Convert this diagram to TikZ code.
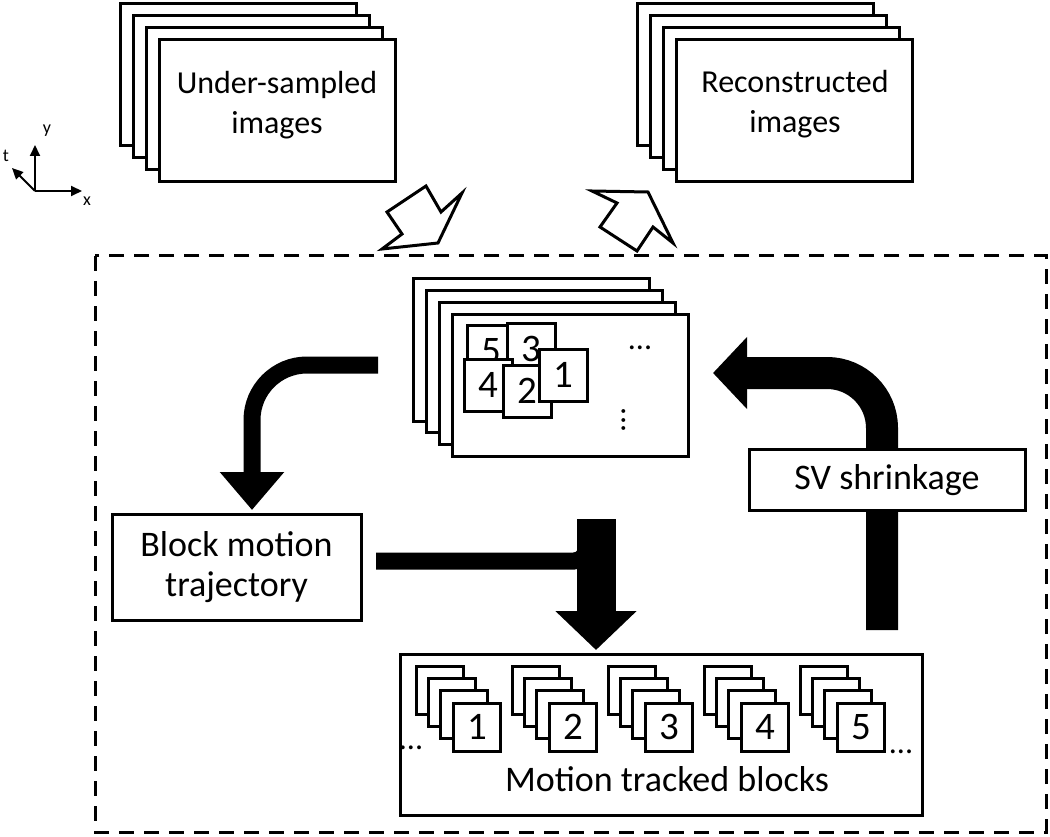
\documentclass[tikz,border=0pt]{standalone}
\usepackage{fontspec}
\setmainfont{Carlito}
\usetikzlibrary{arrows.meta}

\begin{document}
\begin{tikzpicture}[x=1pt,y=-1pt,
  page/.style={draw, line width=3pt, fill=white, minimum width=236pt, minimum height=142pt, inner sep=0pt, outer sep=0pt},
  tile/.style={draw, line width=3pt, fill=white, minimum width=48pt, minimum height=52pt, inner sep=0pt, font=\fontsize{39}{40}\selectfont},
  mini/.style={draw, line width=3pt, fill=white, minimum width=47pt, minimum height=48pt, inner sep=0pt, font=\fontsize{39}{40}\selectfont},
  box/.style={draw, line width=3pt, fill=white, inner sep=0pt, align=center, font=\fontsize{36}{40}\selectfont},
  txt/.style={align=center, inner sep=0pt, font=\fontsize{32}{40}\selectfont},
  hollow/.style={draw, line width=3pt, fill=white, line join=miter},
  axis/.style={line width=2pt, -{Triangle[length=11pt,width=10pt]}},
  small/.style={inner sep=0pt, font=\fontsize{18}{18}\selectfont}]
\useasboundingbox (0,0) rectangle (1050,837);

% axes
\coordinate (o) at (35,191);
\coordinate (ax) at (82,191);
\coordinate (ay) at (35,145);
\coordinate (at) at (12,168);
\draw[axis] (o) -- (ax);
\draw[axis] (o) -- (ay);
\draw[axis] (o) -- (at);
\node[small] (lx) at (87,201) {x};
\node[small] (ly) at (47,131) {y};
\node[small] (lt) at (6,156) {t};

% outer dashed frame
\draw[line width=3pt, dash pattern=on 15pt off 10pt] (95,256) rectangle (1046,832);

% hollow in/out arrows
\draw[hollow] (382,249) -- (402,234) -- (387,212) -- (426,186) -- (441,212) -- (462,193) -- (438,243) -- cycle;
\draw[hollow] (592,191) -- (648,192) -- (673,243) -- (653,227) -- (637,251) -- (600,227) -- (617,203) -- cycle;

% image stacks
\foreach \i in {0,...,3} {
  \node[page] (us\i) at (238+13*\i,75+12*\i) {};
  \node[page] (rc\i) at (755+13.3*\i,75+12*\i) {};
  \node[page] (fr\i) at (531+13.1*\i,350+11.8*\i) {};
}
\node[txt] (ustext) at (277,105) {Under-sampled\\images};
\node[txt] (rctext) at (795,104) {Reconstructed\\images};

% blocks in the current frame
\node[tile] (t5) at (491,351) {5};
\node[tile] (t3) at (531,349) {3};
\node[tile] (t4) at (488,385) {4};
\node[tile] (t2) at (527,391) {2};
\node[tile] (t1) at (563,375) {1};
\node[txt] (hdots) at (640,348) {...};
\node[txt, rotate=90] (vdots) at (624,420) {...};

% thick arrows
\coordinate (a1s) at (378,365);
\coordinate (a1c) at (252,365);
\coordinate (a1e) at (252,510);
\draw[line width=17pt, rounded corners=55pt, -{Triangle[width=62pt,length=38pt]}] (a1s) -- (a1c) -- (a1e);

\coordinate (a2s) at (376,561);
\coordinate (a2t) at (596,519);
\coordinate (a2e) at (596,650);
\draw[line width=17pt, rounded corners=12pt] (a2s) -- ([xshift=-10pt]a2s -| a2t) -- ([xshift=-10pt,yshift=20pt]a2s -| a2t);
\draw[line width=39pt, -{Triangle[width=79pt,length=39pt]}] (a2t) -- (a2e);

\coordinate (a3s) at (882,630);
\coordinate (a3c) at (882,373);
\coordinate (a3e) at (713,373);
\draw[line width=32pt, rounded corners=55pt, -{Triangle[width=70pt,length=34pt]}] (a3s) -- (a3c) -- (a3e);

% process boxes
\node[box, minimum width=249pt, minimum height=106pt] (bmt) at (236.5,567) {Block motion\\trajectory};
\node[box, minimum width=276pt, minimum height=61pt] (svs) at (887,480) {SV shrinkage};
\node[box, minimum width=522pt, minimum height=161pt] (mtb) at (661,734.5) {};

% motion tracked block stacks
\foreach \k in {1,...,5} {
  \foreach \i in {0,...,2} {
    \node[mini] (m\k\i) at (440+96*\k-96+12.2*\i,690+12.4*\i) {};
  }
  \node[mini] (m\k3) at (477+96*\k-96,727) {\k};
}
\node[txt] (ldots) at (411,748) {...};
\node[txt] (rdots) at (901,752) {...};
\node[txt, font=\fontsize{36}{40}\selectfont] (mtbtext) at (667,779) {Motion tracked blocks};
\end{tikzpicture}
\end{document}
